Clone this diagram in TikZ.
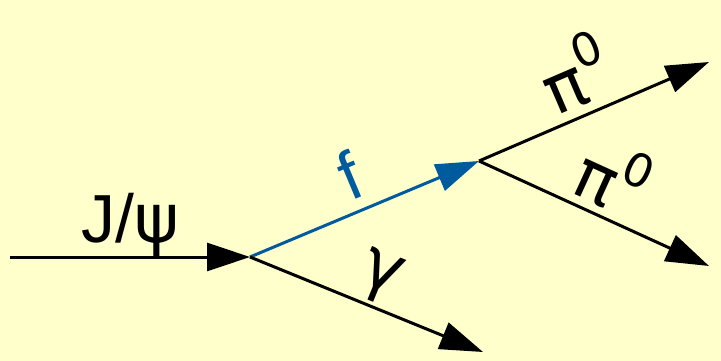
\documentclass[tikz,border=0pt]{standalone}
\usepackage{fontspec}
\setmainfont{Liberation Sans}
\newfontfamily\grk{DejaVu Sans}
\usetikzlibrary{positioning,arrows.meta,calc}
\definecolor{bgyellow}{RGB}{255,255,204}
\definecolor{fblue}{RGB}{0,90,158}
\newcommand{\pizero}{{\grk π}\raisebox{0.48em}{\fontsize{46}{46}\selectfont\grk 0}}

\begin{document}
\begin{tikzpicture}[
  x=1pt, y=-1pt,
  line width=3pt,
  particle/.style={-{Triangle[length=43pt,width=28pt]}},
  lbl/.style={font=\fontsize{68}{72}\selectfont, inner sep=2pt}
]
\fill[bgyellow] (0,0) rectangle (721,361);

\coordinate (in) at (10,257);
\coordinate (vA) at (250,257);
\coordinate (vB) at (479,161);
\coordinate (gam) at (483,352);
\coordinate (pi1) at (709,62);
\coordinate (pi2) at (709,266);

\draw[particle] (in) -- node[lbl, above=-3pt, pos=0.5] {J/{\grk ψ}} (vA);
\draw[particle, fblue] (vA) -- node[lbl, sloped, above=9pt, pos=0.5, text=fblue] {f} (vB);
\draw[particle] (vA) -- node[lbl, sloped, above=1pt, pos=0.51] {\grk γ} (gam);

\draw[particle] (vB) -- node[lbl, sloped, above=6pt, pos=0.49] {\pizero} (pi1);
\draw[particle] (vB) -- node[lbl, sloped, above=4pt, pos=0.51] {\pizero} (pi2);
\end{tikzpicture}
\end{document}
